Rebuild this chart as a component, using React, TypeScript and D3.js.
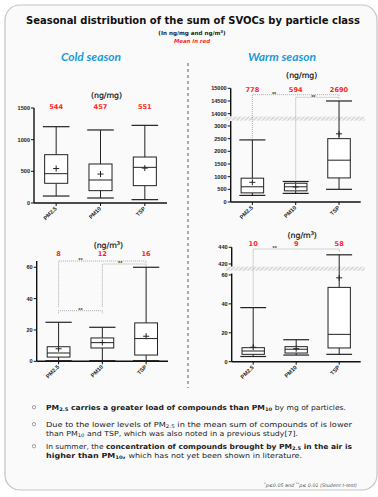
import React from 'react';
import * as d3 from 'd3';

// groups and five-number summaries [min, q1, median, q3, max]
const groups = ['PM2.5', 'PM10', 'TSP'];

const coldMgBoxes = [[110, 311, 463, 763, 1205], [79, 195, 363, 616, 1153], [53, 274, 563, 726, 1226]];
const coldMgMeans = [544, 457, 551];
const coldMgTicks = [0, 500, 1000, 1500];

const warmMgBoxes = [[260, 360, 600, 940, 2450], [340, 440, 600, 740, 810], [500, 950, 1650, 2500, 14500]];
const warmMgMeans = [778, 594, 2690];
const warmMgLowTicks = [0, 500, 1000, 1500, 2000, 2500, 3000];
const warmMgHighTicks = [14000, 14500, 15000];

const coldM3Boxes = [[0.4, 2.7, 5.3, 9.3, 24.9], [0.4, 8.5, 11.9, 14.9, 21.7], [0.4, 4, 14.5, 24.5, 60]];
const coldM3Means = [8, 12, 16];
const coldM3Ticks = [0, 20, 40, 60];

const warmM3Boxes = [[3.6, 5.1, 7.4, 9.7, 37.4], [4.6, 6, 8.6, 10.4, 15.2], [5.1, 9.5, 18.9, 51.4, 431]];
const warmM3Means = [10, 9, 58];
const warmM3LowTicks = [0, 20, 40, 60];
const warmM3HighTicks = [420, 440];

// significance: index a vs index b
const warmMgSig = [{ a: 0, b: 2, mark: '**' }, { a: 1, b: 2, mark: '**' }];
const coldM3Sig = [{ a: 0, b: 2, mark: '**' }, { a: 1, b: 2, mark: '**' }, { a: 0, b: 1, mark: '**' }];
const warmM3Sig = [{ a: 0, b: 2, mark: '**' }];

const BLUE = '#1d9ad6';
const RED = '#ff1f1f';
const TICK_FONT = 'Liberation Sans, Arial, sans-serif';

interface Seg { domain: [number, number]; range: [number, number]; ticks: number[]; }
interface Sig { a: number; b: number; mark: string; }
interface PanelCfg {
  x0: number; x1: number;
  segs: Seg[];
  boxes: number[][];
  means: number[];
  unit: React.ReactNode;
  unitY: number;
  meanY: number;
  sig?: Sig[];
  sigY?: number[];
  longDrop?: boolean[];
  band?: [number, number];
}

function pieceScale(segs: Seg[]) {
  const scales = segs.map(s => d3.scaleLinear().domain(s.domain).range(s.range));
  return (v: number) => {
    const i = segs.findIndex(s => v >= s.domain[0] && v <= s.domain[1]);
    return scales[i < 0 ? 0 : i](v);
  };
}

function Panel({ cfg }: { cfg: PanelCfg }) {
  const x = d3.scaleBand<string>().domain(groups).range([cfg.x0, cfg.x1]);
  const y = pieceScale(cfg.segs);
  const bw = x.bandwidth() * 0.52;
  const cap = x.bandwidth() * 0.3;
  const yBase = cfg.segs[0].range[0];
  const cx = (i: number) => (x(groups[i]) as number) + x.bandwidth() / 2;
  const sig = cfg.sig || [];
  const sigY = cfg.sigY || [];

  return (
    <g>
      {cfg.band && (
        <rect x={cfg.x0 - 6} y={cfg.band[0]} width={cfg.x1 - cfg.x0 + 10} height={cfg.band[1] - cfg.band[0]} fill="url(#hatch)" />
      )}
      {/* y axis segments */}
      {cfg.segs.map((s, si) => (
        <g key={si}>
          <line x1={cfg.x0} x2={cfg.x0} y1={s.range[0]} y2={s.range[1]} stroke="#111" strokeWidth={1.4} />
          {s.ticks.map(t => (
            <g key={t}>
              <line x1={cfg.x0 - 3} x2={cfg.x0} y1={y(t)} y2={y(t)} stroke="#111" strokeWidth={1} />
              <text x={cfg.x0 - 4} y={y(t)} dy="0.35em" textAnchor="end" fontSize={5.6} fontFamily={TICK_FONT} fontWeight="bold" fill="#222">{t}</text>
            </g>
          ))}
        </g>
      ))}
      {/* x axis */}
      <line x1={cfg.x0} x2={cfg.x1} y1={yBase} y2={yBase} stroke="#111" strokeWidth={1.4} />
      {groups.map((g, i) => (
        <g key={g}>
          <line x1={cx(i)} x2={cx(i)} y1={yBase} y2={yBase + 3} stroke="#111" strokeWidth={1} />
          <text transform={`translate(${cx(i) + 1},${yBase + 6}) rotate(-45)`} textAnchor="end" fontSize={5.6} fontFamily={TICK_FONT} fontWeight="bold" fill="#222">{g}</text>
        </g>
      ))}
      {/* significance brackets */}
      {sig.map((s, k) => {
        const ly = sigY[k];
        const xa = cx(s.a), xb = cx(s.b);
        let drop = ly + 2.5;
        if (cfg.longDrop && cfg.longDrop[k]) {
          drop = y(cfg.boxes[s.a][4]) - 2;
          sigY.forEach((oy, j) => {
            const o = sig[j];
            if (oy > ly && (o.a === s.a || o.b === s.a)) drop = Math.min(drop, oy - 4);
          });
        }
        const mx = (xa + cx(s.a + 1)) / 2 - (s.a === 1 ? 4 : 0);
        return (
          <g key={k}>
            <path d={`M${xa},${drop}V${ly}H${xb}V${ly + 2.5}`} fill="none" stroke="#8a8a8a" strokeWidth={0.7} strokeDasharray="1,1" />
            <text x={mx} y={ly + 1.2} textAnchor="middle" fontSize={5.5} fontFamily={TICK_FONT} fontWeight="bold" fill="#444">{s.mark}</text>
          </g>
        );
      })}
      {/* boxes */}
      {cfg.boxes.map((b, i) => {
        const c = cx(i);
        const [mn, q1, md, q3, mx] = b;
        return (
          <g key={i} stroke="#222" strokeWidth={1}>
            <line x1={c} x2={c} y1={y(q3)} y2={y(mx)} />
            <line x1={c} x2={c} y1={y(q1)} y2={y(mn)} />
            <line x1={c - cap} x2={c + cap} y1={y(mx)} y2={y(mx)} strokeWidth={1.2} />
            <line x1={c - cap} x2={c + cap} y1={y(mn)} y2={y(mn)} strokeWidth={1.2} />
            <rect x={c - bw / 2} y={y(q3)} width={bw} height={y(q1) - y(q3)} fill="#fff" />
            <line x1={c - bw / 2} x2={c + bw / 2} y1={y(md)} y2={y(md)} />
            <line x1={c - 3} x2={c + 3} y1={y(cfg.means[i])} y2={y(cfg.means[i])} />
            <line x1={c} x2={c} y1={y(cfg.means[i]) - 3} y2={y(cfg.means[i]) + 3} />
          </g>
        );
      })}
      {/* means in red */}
      {cfg.means.map((m, i) => (
        <text key={i} x={cx(i)} y={cfg.meanY} textAnchor="middle" fontSize={6.6} fontFamily="DejaVu Sans, sans-serif" fontWeight="bold" fill={RED}>{m}</text>
      ))}
      <text x={(cfg.x0 + cfg.x1) / 2 + 6} y={cfg.unitY} textAnchor="middle" fontSize={7.8} fontFamily="DejaVu Sans, sans-serif" fill="#111" stroke="#111" strokeWidth={0.2}>{cfg.unit}</text>
    </g>
  );
}

const coldMg: PanelCfg = {
  x0: 34, x1: 167,
  segs: [{ domain: [0, 1500], range: [203, 108], ticks: coldMgTicks }],
  boxes: coldMgBoxes, means: coldMgMeans,
  unit: '(ng/mg)', unitY: 97.5, meanY: 109,
};

const warmMg: PanelCfg = {
  x0: 230.7, x1: 360.7,
  segs: [
    { domain: [0, 3200], range: [202, 120.9], ticks: warmMgLowTicks },
    { domain: [13900, 15000], range: [116.2, 88.3], ticks: warmMgHighTicks },
  ],
  boxes: warmMgBoxes, means: warmMgMeans,
  unit: '(ng/mg)', unitY: 77.5, meanY: 91.7,
  sig: warmMgSig, sigY: [94.7, 97.3], longDrop: [true, true],
  band: [116.6, 120.6],
};

const m3 = <>(ng/m<tspan dy={-2.5} fontSize={5}>3</tspan><tspan dy={2.5}>)</tspan></>;

const coldM3: PanelCfg = {
  x0: 36.7, x1: 168,
  segs: [{ domain: [0, 64], range: [361.3, 261], ticks: coldM3Ticks }],
  boxes: coldM3Boxes, means: coldM3Means,
  unit: m3, unitY: 247.5, meanY: 255.6,
  sig: coldM3Sig, sigY: [261, 264, 310.7], longDrop: [true, true, false],
};

const warmM3: PanelCfg = {
  x0: 231.7, x1: 360.7,
  segs: [
    { domain: [0, 61], range: [361.7, 273.5], ticks: warmM3LowTicks },
    { domain: [417, 440], range: [266.5, 247.3], ticks: warmM3HighTicks },
  ],
  boxes: warmM3Boxes, means: warmM3Means,
  unit: m3, unitY: 237.5, meanY: 246.4,
  sig: warmM3Sig, sigY: [249], longDrop: [true],
  band: [266.7, 270.7],
};

const BODY = 'DejaVu Sans, sans-serif';

function Sub({ t }: { t: string }) {
  return <><tspan dy={1.6} fontSize={4.8}>{t}</tspan><tspan dy={-1.6}> </tspan></>;
}

export default function App() {
  return (
    <div style={{ position: 'absolute', left: 0, top: 0 }}>
      <svg width={378} height={497} style={{ display: 'block', background: '#fff' }}>
        <defs>
          <pattern id="hatch" width={3} height={3} patternUnits="userSpaceOnUse" patternTransform="rotate(45)">
            <rect width={3} height={3} fill="#f1f1f1" />
            <line x1={0} y1={0} x2={0} y2={3} stroke="#bdbdbd" strokeWidth={1.3} />
          </pattern>
        </defs>
        <rect x={5} y={5} width={372} height={485} rx={15} fill="#fafafa" stroke="#c4c4c4" strokeWidth={1.2} />

        <text x={193} y={23.5} textAnchor="middle" fontSize={10.5} fontWeight="bold" fontFamily={BODY} fill="#111" textLength={334} lengthAdjust="spacingAndGlyphs">Seasonal distribution of the sum of SVOCs by particle class</text>
        <text x={192} y={35} textAnchor="middle" fontSize={5.6} fontWeight="bold" fontFamily={BODY} fill="#222">(In ng/mg and ng/m<tspan dy={-2} fontSize={4}>3</tspan><tspan dy={2}>)</tspan></text>
        <text x={192} y={42.8} textAnchor="middle" fontSize={5.4} fontStyle="italic" fontWeight="bold" fontFamily={BODY} fill={RED}>Mean in red</text>

        <text x={91} y={61} textAnchor="middle" fontSize={12} fontStyle="italic" fontWeight="bold" fontFamily="Lato, sans-serif" fill={BLUE}>Cold season</text>
        <text x={282} y={61} textAnchor="middle" fontSize={12} fontStyle="italic" fontWeight="bold" fontFamily="Lato, sans-serif" fill={BLUE}>Warm season</text>

        <line x1={188} x2={188} y1={63} y2={388} stroke="#333" strokeWidth={0.8} strokeDasharray="3,3" />

        <Panel cfg={coldMg} />
        <Panel cfg={warmMg} />
        <Panel cfg={coldM3} />
        <Panel cfg={warmM3} />

        {/* conclusions */}
        <g fontFamily={BODY} fontSize={7} fill="#222">
          {[409.5, 426.5, 448.5].map(by => (
            <circle key={by} cx={34} cy={by - 2.3} r={1.7} fill="none" stroke="#666" strokeWidth={0.6} />
          ))}
          <text x={46} y={409.5} textLength={300} lengthAdjust="spacingAndGlyphs">
            <tspan fontWeight="bold">PM<Sub t="2.5" />carries a greater load of compounds than PM<Sub t="10" /></tspan>by mg of particles.
          </text>
          <text x={46} y={426.5} textLength={306} lengthAdjust="spacingAndGlyphs">Due to the lower levels of PM<Sub t="2.5" />in the mean sum of compounds of is lower</text>
          <text x={46} y={435.5} textLength={252} lengthAdjust="spacingAndGlyphs">than PM<Sub t="10" />and TSP, which was also noted in a previous study[7].</text>
          <text x={46} y={448.5} textLength={306} lengthAdjust="spacingAndGlyphs">In summer, the <tspan fontWeight="bold">concentration of compounds brought by PM<Sub t="2.5" />in the air is</tspan></text>
          <text x={46} y={457.5} textLength={256} lengthAdjust="spacingAndGlyphs"><tspan fontWeight="bold">higher than PM<tspan dy={1.6} fontSize={4.8}>10</tspan><tspan dy={-1.6}>,</tspan></tspan> which has not yet been shown in literature.</text>
          <text x={357} y={486.5} textAnchor="end" fontSize={4.8} fontStyle="italic" fill="#555"><tspan dy={-1.5} fontSize={3.6}>*</tspan><tspan dy={1.5}>p≤0.05 and </tspan><tspan dy={-1.5} fontSize={3.6}>**</tspan><tspan dy={1.5}>p≤ 0.01 (Student t-test)</tspan></text>
        </g>
      </svg>
    </div>
  );
}
